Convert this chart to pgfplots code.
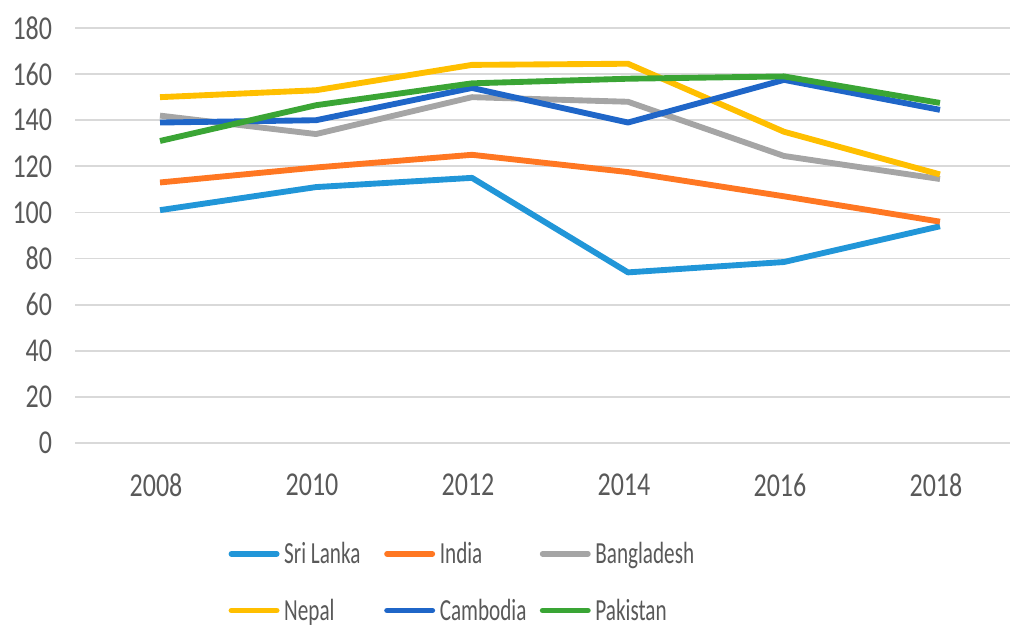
\documentclass[border=0pt]{standalone}
\usepackage{pgfplots}
\pgfplotsset{compat=1.18}
\usepackage{fontspec}
\setmainfont{Carlito}
\newfontfamily\tickfont{Carlito}[FakeStretch=0.78]
\newfontfamily\legfont{Carlito}[FakeStretch=0.69]
\definecolor{cSri}{HTML}{2196D8}
\definecolor{cInd}{HTML}{FF7722}
\definecolor{cBan}{HTML}{A5A5A5}
\definecolor{cNep}{HTML}{FFBF00}
\definecolor{cCam}{HTML}{1F66C8}
\definecolor{cPak}{HTML}{3AA535}
\definecolor{txt}{HTML}{595959}
\definecolor{gridc}{HTML}{D9D9D9}
\newcommand{\legent}[1]{\hspace*{1.5pt}\makebox[73pt][l]{#1}}
\begin{document}
\begin{tikzpicture}
\begin{axis}[
  name=ax,
  scale only axis=true,
  width=701.25pt, height=311.25pt,
  xmin=-0.545, xmax=5.449,
  ymin=0, ymax=180,
  axis line style={draw=none},
  ymajorgrids=true,
  grid style={gridc, line width=1.3pt},
  xtick={0,1,2,3,4,5},
  xticklabels={2008,2010,2012,2014,2016,2018},
  ytick={0,20,...,180},
  major tick length=0pt,
  tick style={draw=none},
  /pgf/number format/assume math mode=true,
  tick label style={font=\fontsize{25}{29}\tickfont, text=txt},
  y tick label style={inner sep=0pt, xshift=-17pt},
  x tick label style={inner sep=0pt, yshift=-23pt, xshift=-3pt},
  legend columns=3,
  legend cell align=left,
  legend style={draw=none, fill=none, inner sep=0pt, at={(0.164,-0.232)}, anchor=north west,
    font=\fontsize{23}{26}\legfont, text=txt, row sep=21pt,
    /tikz/every even column/.append style={column sep=0pt}},
  legend image code/.code={\draw[#1, line width=4.2pt, line cap=round] (0pt,0pt) -- (34pt,0pt);},
  every axis plot/.append style={line width=4.4pt, line join=round},
]
\addplot[cSri] coordinates {(0,101) (1,111) (2,115) (3,74) (4,78.5) (5,94)};
\addlegendentry{\legent{Sri Lanka}}
\addplot[cInd] coordinates {(0,113) (1,119.5) (2,125) (3,117.5) (4,107) (5,96)};
\addlegendentry{\legent{India}}
\addplot[cBan] coordinates {(0,142) (1,134) (2,150) (3,148) (4,124.5) (5,114.5)};
\addlegendentry{\legent{Bangladesh}}
\addplot[cNep] coordinates {(0,150) (1,153) (2,164) (3,164.5) (4,135) (5,116.5)};
\addlegendentry{\legent{Nepal}}
\addplot[cCam] coordinates {(0,139) (1,140) (2,154) (3,139) (4,157.5) (5,144.5)};
\addlegendentry{\legent{Cambodia}}
\addplot[cPak] coordinates {(0,131) (1,146.5) (2,156) (3,158) (4,159) (5,147.5)};
\addlegendentry{\legent{Pakistan}}
\end{axis}
\pgfresetboundingbox
\path[use as bounding box] ([xshift=-56.25pt,yshift=-138.75pt]ax.south west) rectangle ([yshift=21pt]ax.north east);
\end{tikzpicture}
\end{document}
